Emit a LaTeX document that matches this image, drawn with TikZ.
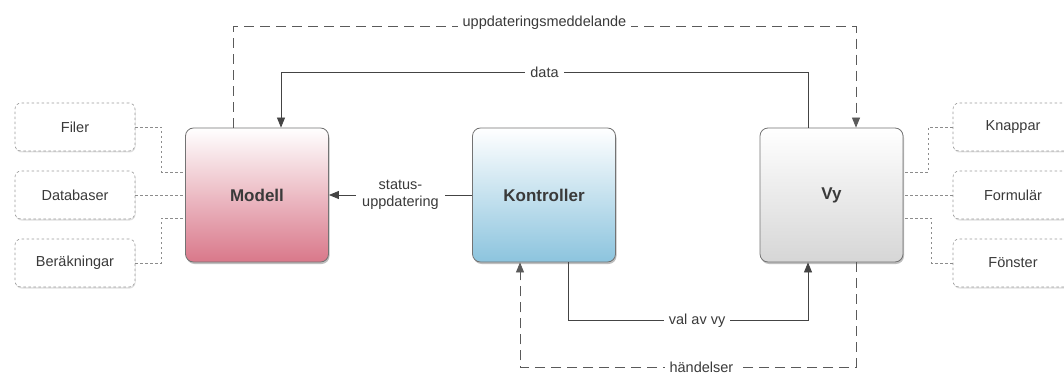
\documentclass[tikz,border=0pt]{standalone}
\usepackage{fontspec}
\setmainfont{Liberation Sans}
\usetikzlibrary{arrows.meta,shadows,calc}
\definecolor{txt}{HTML}{3A3A3A}
\definecolor{ln}{HTML}{444444}
\definecolor{dln}{HTML}{5A5A5A}
\definecolor{pinkb}{HTML}{D9788A}
\definecolor{blueb}{HTML}{8CC4DE}
\definecolor{grayb}{HTML}{D6D6D6}
\tikzset{
  mainbox/.style={draw=black!55, line width=0.8pt, rounded corners=8pt,
    minimum width=143pt, minimum height=134pt, font=\fontsize{17}{20}\selectfont\bfseries,
    text=txt, drop shadow={shadow xshift=1pt, shadow yshift=-2pt, opacity=0.25, fill=black}},
  sidebox/.style={draw=black!40, line width=0.6pt, dash pattern=on 2.5pt off 2.5pt,
    rounded corners=6pt, fill=white, minimum width=120pt, minimum height=48pt,
    font=\fontsize{14.5}{17}\selectfont, text=txt,
    drop shadow={shadow xshift=0.5pt, shadow yshift=-1.5pt, opacity=0.12, fill=black}},
  sideline/.style={draw=black!45, line width=0.6pt, dash pattern=on 2.5pt off 2.5pt},
  solidcon/.style={draw=ln, line width=0.8pt},
  dashcon/.style={draw=dln, line width=0.8pt, dash pattern=on 10pt off 6pt},
  tip/.style={-{Triangle[length=10pt,width=8pt]}},
  lbl/.style={fill=white, text=txt, font=\fontsize{14.5}{17}\selectfont, inner sep=5pt},
}
\begin{document}
\begin{tikzpicture}[x=1pt,y=-1pt]
\useasboundingbox (0,0) rectangle (1064,374);
% main boxes
\node[mainbox, top color=white, bottom color=pinkb] (modell) at (257,195) {Modell};
\node[mainbox, top color=white, bottom color=blueb] (kontroller) at (544,195) {Kontroller};
\node[mainbox, top color=white, bottom color=grayb] (vy) at (831.5,195) {Vy};
% side boxes
\node[sidebox] (filer) at (75,127) {Filer};
\node[sidebox] (databaser) at (75,195) {Databaser};
\node[sidebox] (berakningar) at (75,263) {Beräkningar};
\node[sidebox] (knappar) at (1013,127) {Knappar};
\node[sidebox] (formular) at (1013,195) {Formulär};
\node[sidebox] (fonster) at (1013,263) {Fönster};
% side connectors
\draw[sideline] (filer.east) -- ++(26,0) |- ([yshift=23pt]modell.west);
\draw[sideline] (databaser.east) -- (modell.west);
\draw[sideline] (berakningar.east) -- ++(26,0) |- ([yshift=-23pt]modell.west);
\draw[sideline] (knappar.west) -- ++(-24,0) |- ([yshift=23pt]vy.east);
\draw[sideline] (formular.west) -- (vy.east);
\draw[sideline] (fonster.west) -- ++(-21,0) |- ([yshift=-23pt]vy.east);
% top connectors
\draw[dashcon, tip] ([xshift=-24pt]modell.north) -- ++(0,-101)
  -| node[pos=0.25, lbl, yshift=4pt, inner ysep=2pt] {uppdateringsmeddelande} ([xshift=24.5pt]vy.north);
\draw[solidcon, tip] ([xshift=-23.5pt]vy.north) -- ++(0,-55)
  -| node[pos=0.25, lbl] {data} ([xshift=24pt]modell.north);
% status
\draw[solidcon, tip] (kontroller.west) -- node[lbl, align=center, inner xsep=6pt] {status-\\uppdatering} (modell.east);
% bottom connectors
\draw[solidcon, tip] ([xshift=24pt]kontroller.south) -- ++(0,58)
  -| node[pos=0.269, lbl] {val av vy} ([xshift=-23.5pt]vy.south);
\draw[dashcon, tip] ([xshift=24.5pt]vy.south) -- ++(0,105)
  -| node[pos=0.23, lbl] {händelser} ([xshift=-24pt]kontroller.south);
\end{tikzpicture}
\end{document}
